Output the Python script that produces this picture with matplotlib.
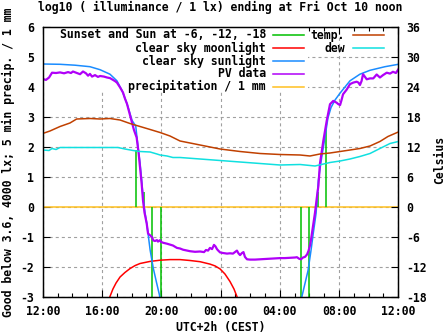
import matplotlib
matplotlib.use('Agg')
import matplotlib.pyplot as plt
import numpy as np
from matplotlib.lines import Line2D
from matplotlib.patches import Rectangle

# ---------------- data (hours since 12:00) ----------------
tick_hours = [0, 4, 8, 12, 16, 20, 24]
tick_labels = ["12:00", "16:00", "20:00", "00:00", "04:00", "08:00", "12:00"]
left_ticks = [-3, -2, -1, 0, 1, 2, 3, 4, 5, 6]
right_ticks = [-18, -12, -6, 0, 6, 12, 18, 24, 30, 36]

pv_h = [0, 0.22, 0.43, 0.63, 0.90, 1.17, 1.44, 1.71, 1.91, 2.04,
        2.25, 2.52, 2.72, 2.92, 3.06, 3.19, 3.33, 3.53, 3.73, 3.87,
        4.14, 4.34, 4.54, 4.68, 4.88, 5.01, 5.22, 5.42, 5.55, 5.69,
        5.89, 6.03, 6.16, 6.34, 6.47, 6.57, 6.68, 6.77, 6.87, 7.02,
        7.11, 7.25, 7.38, 7.46, 7.58, 7.71, 7.78, 7.92, 7.98, 8.14,
        8.39, 8.59, 8.79, 9.06, 9.27, 9.47, 9.74, 9.94, 10.28, 10.62,
        10.89, 11.02, 11.16, 11.29, 11.43, 11.56, 11.66, 11.76, 11.83, 11.97,
        12.17, 12.44, 12.64, 12.84, 12.98, 13.11, 13.21, 13.32, 13.45, 13.55,
        13.65, 13.79, 13.99, 14.33, 14.67, 15.01, 15.34, 15.68, 16.02, 16.35,
        16.69, 17.03, 17.16, 17.30, 17.43, 17.57, 17.70, 17.84, 17.94, 18.04,
        18.11, 18.17, 18.26, 18.38, 18.49, 18.61, 18.71, 18.94, 19.17, 19.39,
        19.61, 19.84, 19.93, 20.07, 20.17, 20.27, 20.52, 20.74, 20.96, 21.19,
        21.31, 21.41, 21.52, 21.62, 21.87, 22.09, 22.31, 22.54, 22.76, 22.97,
        23.22, 23.44, 23.64, 23.84, 24.0]
pv_v = [4.25, 4.22, 4.30, 4.46, 4.45, 4.47, 4.44, 4.48, 4.45, 4.50,
        4.46, 4.41, 4.50, 4.44, 4.36, 4.42, 4.33, 4.38, 4.32, 4.35,
        4.33, 4.30, 4.28, 4.24, 4.18, 4.13, 3.97, 3.80, 3.60, 3.42,
        3.05, 2.78, 2.55, 2.30, 1.80, 1.31, 0.75, 0.20, -0.20, -0.57,
        -0.90, -0.96, -1.02, -1.13, -1.15, -1.12, -1.17, -1.12, -1.18, -1.21,
        -1.24, -1.27, -1.30, -1.38, -1.40, -1.44, -1.47, -1.49, -1.51, -1.50,
        -1.52, -1.45, -1.47, -1.38, -1.42, -1.28, -1.33, -1.42, -1.46, -1.53,
        -1.55, -1.57, -1.56, -1.57, -1.52, -1.47, -1.56, -1.62, -1.55, -1.52,
        -1.68, -1.76, -1.77, -1.77, -1.76, -1.75, -1.74, -1.73, -1.72, -1.72,
        -1.71, -1.70, -1.69, -1.74, -1.76, -1.70, -1.68, -1.60, -1.48, -1.30,
        -1.10, -0.90, -0.60, -0.20, 0.25, 0.70, 1.42, 2.19, 2.86, 3.41,
        3.52, 3.46, 3.42, 3.38, 3.55, 3.74, 3.90, 4.08, 4.13, 4.16,
        4.13, 4.05, 4.18, 4.41, 4.24, 4.27, 4.27, 4.40, 4.30, 4.38,
        4.46, 4.43, 4.49, 4.45, 4.57]

sun_h = [0, 1.17, 2.18, 3.19, 3.87, 4.54, 5.01, 5.35, 5.69, 6.03,
         6.28, 6.43, 6.57, 6.68, 6.79, 6.91, 7.02, 7.25, 7.46, 7.69,
         7.88, 7.98, 12.0, 17.40, 17.52, 17.70, 17.91, 18.11, 18.26, 18.45,
         18.51, 18.60, 18.83, 19.05, 19.25, 19.46, 19.73, 20.07, 20.74, 21.41,
         22.09, 23.10, 24.0]
sun_v = [4.75, 4.74, 4.71, 4.66, 4.56, 4.41, 4.19, 3.87, 3.43, 2.87,
         2.68, 2.00, 1.45, 0.88, 0.22, -0.22, -0.55, -1.45, -2.05, -2.55,
         -2.95, -3.30, np.nan, -3.20, -2.95, -2.57, -2.13, -1.46, -0.90, -0.23,
         0.20, 0.86, 1.64, 2.30, 2.95, 3.30, 3.55, 3.78, 4.19, 4.41,
         4.54, 4.66, 4.74]

moon_h = [4.41, 4.54, 4.74, 4.95, 5.22, 5.55, 5.89, 6.23, 6.57, 7.25,
          7.92, 8.59, 9.27, 9.94, 10.62, 11.29, 11.63, 11.97, 12.30, 12.64,
          12.91, 13.11, 13.18]
moon_v = [-3.2, -3.0, -2.75, -2.55, -2.35, -2.20, -2.07, -1.97, -1.90, -1.83,
          -1.79, -1.77, -1.77, -1.80, -1.84, -1.92, -1.98, -2.08, -2.25, -2.50,
          -2.75, -3.0, -3.2]

temp_h = [0, 0.49, 1.17, 1.84, 2.29, 3.19, 3.87, 4.54, 5.22, 5.89,
          6.57, 7.25, 7.92, 8.59, 9.27, 10.62, 11.97, 13.32, 14.67, 16.02,
          17.37, 18.04, 18.71, 19.39, 20.07, 20.74, 21.41, 22.09, 22.76, 23.30,
          24.0]
temp_c = [14.6, 15.1, 16.0, 16.7, 17.5, 17.6, 17.5, 17.6, 17.3, 16.6,
          16.0, 15.4, 14.8, 14.1, 13.1, 12.3, 11.5, 11.0, 10.6, 10.4,
          10.3, 10.1, 10.5, 10.7, 11.0, 11.3, 11.6, 12.1, 13.0, 14.0,
          14.9]

dew_h = [0, 0.43, 0.63, 0.90, 1.17, 5.08, 5.55, 6.10, 6.57, 7.25,
         7.71, 7.92, 8.39, 8.79, 9.27, 10.62, 11.97, 13.32, 14.67, 16.02,
         17.37, 18.38, 19.39, 20.07, 20.74, 21.41, 22.09, 22.76, 23.44, 24.0]
dew_c = [11.3, 11.2, 11.6, 11.4, 11.8, 11.8, 11.5, 11.2, 11.0, 10.9,
         10.5, 10.3, 10.1, 9.8, 9.8, 9.5, 9.2, 8.9, 8.6, 8.3,
         8.4, 8.1, 8.8, 9.1, 9.5, 10.0, 10.6, 11.6, 12.6, 13.0]

# sunset / sun at -6, -12, -18 (and the morning counterparts)
sunev_h = [6.28, 6.84, 7.40, 8.00, 17.40, 17.99, 18.61, 19.14]
sunev_v = [1.88, 0.50, -4.0, -4.0, -4.0, -4.0, 0.49, 2.62]

precip_h = list(range(0, 25))
precip_v = [0.0] * 25

# ---------------- styling ----------------
plt.rcParams['font.family'] = ['DejaVu Sans Mono']
plt.rcParams['font.weight'] = 'bold'
plt.rcParams['font.size'] = 8.3
plt.rcParams['lines.scale_dashes'] = False

W, H = 447, 335
def fx(px):
    return px / W
def fy(py):
    return 1 - py / H

C_GREEN = '#00c000'
C_RED = '#ff0000'
C_BLUE = '#1a8cff'
C_PURPLE = '#b000f8'
C_GOLD = '#ffc020'
C_TEMP = '#c04000'
C_DEW = '#10e0e0'
LW = 1.1

fig = plt.figure(figsize=(W / 100, H / 100), dpi=100)
ax = fig.add_axes([fx(42.7), fy(296.5), 355.6 / W, 270 / H])
ax.set_xlim(0, 24)
ax.set_ylim(-3, 6)
ax.set_axisbelow(True)
ax.set_xticks(tick_hours)
ax.set_xticklabels(tick_labels)
ax.set_xticks(range(0, 25), minor=True)
ax.set_yticks(left_ticks)
ax.set_yticklabels([str(t) for t in left_ticks])
ax.grid(True, which='major', color='#a0a0a0', linestyle=(0, (2.2, 2.2)), linewidth=0.8)
ax.tick_params(which='major', direction='in', length=5, width=0.8, top=True, right=False, pad=6)
ax.tick_params(which='minor', direction='in', length=3, width=0.8, top=True, right=False)
ax.tick_params(axis='y', which='minor', left=False, right=False)
for s in ax.spines.values():
    s.set_linewidth(0.9)

# key background that hides the grid (left key column)
ax.add_patch(Rectangle((fx(43.5), fy(92)), fx(308) - fx(43.5), fy(27) - fy(92),
                       transform=fig.transFigure, facecolor='white', edgecolor='none',
                       zorder=0.8, clip_on=False))

ax.plot(precip_h, precip_v, color=C_GOLD, lw=LW, zorder=2)
ax.vlines(sunev_h, 0, sunev_v, color=C_GREEN, lw=LW, zorder=2.1)
ax.plot(moon_h, moon_v, color=C_RED, lw=LW, zorder=2.2)
ax.plot(sun_h, sun_v, color=C_BLUE, lw=LW, zorder=2.3)
ax.plot(pv_h, pv_v, color=C_PURPLE, lw=1.6, zorder=2.4)

ax2 = ax.twinx()
ax2.set_ylim(-18, 36)
ax2.set_yticks(right_ticks)
ax2.set_yticklabels([str(t) for t in right_ticks])
ax2.tick_params(direction='in', length=5, width=0.8, pad=6)
for s in ax2.spines.values():
    s.set_linewidth(0.9)
ax2.plot(temp_h, temp_c, color=C_TEMP, lw=LW)
ax2.plot(dew_h, dew_c, color=C_DEW, lw=LW)

# ---------------- key ----------------
left_entries = [("Sunset and Sun at -6, -12, -18", C_GREEN),
                ("clear sky moonlight", C_RED),
                ("clear sky sunlight", C_BLUE),
                ("PV data", C_PURPLE),
                ("precipitation / 1 mm", C_GOLD)]
right_entries = [("temp.", C_TEMP), ("dew", C_DEW)]
rows = [35, 48, 61, 73.5, 86.5]
for (lab, col), ry in zip(left_entries, rows):
    fig.text(fx(266), fy(ry), lab, ha='right', va='center')
    fig.add_artist(Line2D([fx(273), fx(304)], [fy(ry), fy(ry)], color=col, lw=LW,
                          transform=fig.transFigure))
for (lab, col), ry in zip(right_entries, rows):
    fig.text(fx(345), fy(ry), lab, ha='right', va='center')
    fig.add_artist(Line2D([fx(353), fx(384)], [fy(ry), fy(ry)], color=col, lw=LW,
                          transform=fig.transFigure))

# ---------------- titles / labels ----------------
fig.text(fx(220.5), fy(7), "log10 ( illuminance / 1 lx) ending at Fri Oct 10 noon",
         ha='center', va='center')
fig.text(fx(220.5), fy(328), "UTC+2h (CEST)", ha='center', va='center')
fig.text(fx(8), fy(162), "Good below 3.6, 4000 lx; 5 min precip. / 1 mm",
         rotation=90, ha='center', va='center')
fig.text(fx(440), fy(160), "Celsius", rotation=90, ha='center', va='center')

fig.savefig('out.png', dpi=100)
